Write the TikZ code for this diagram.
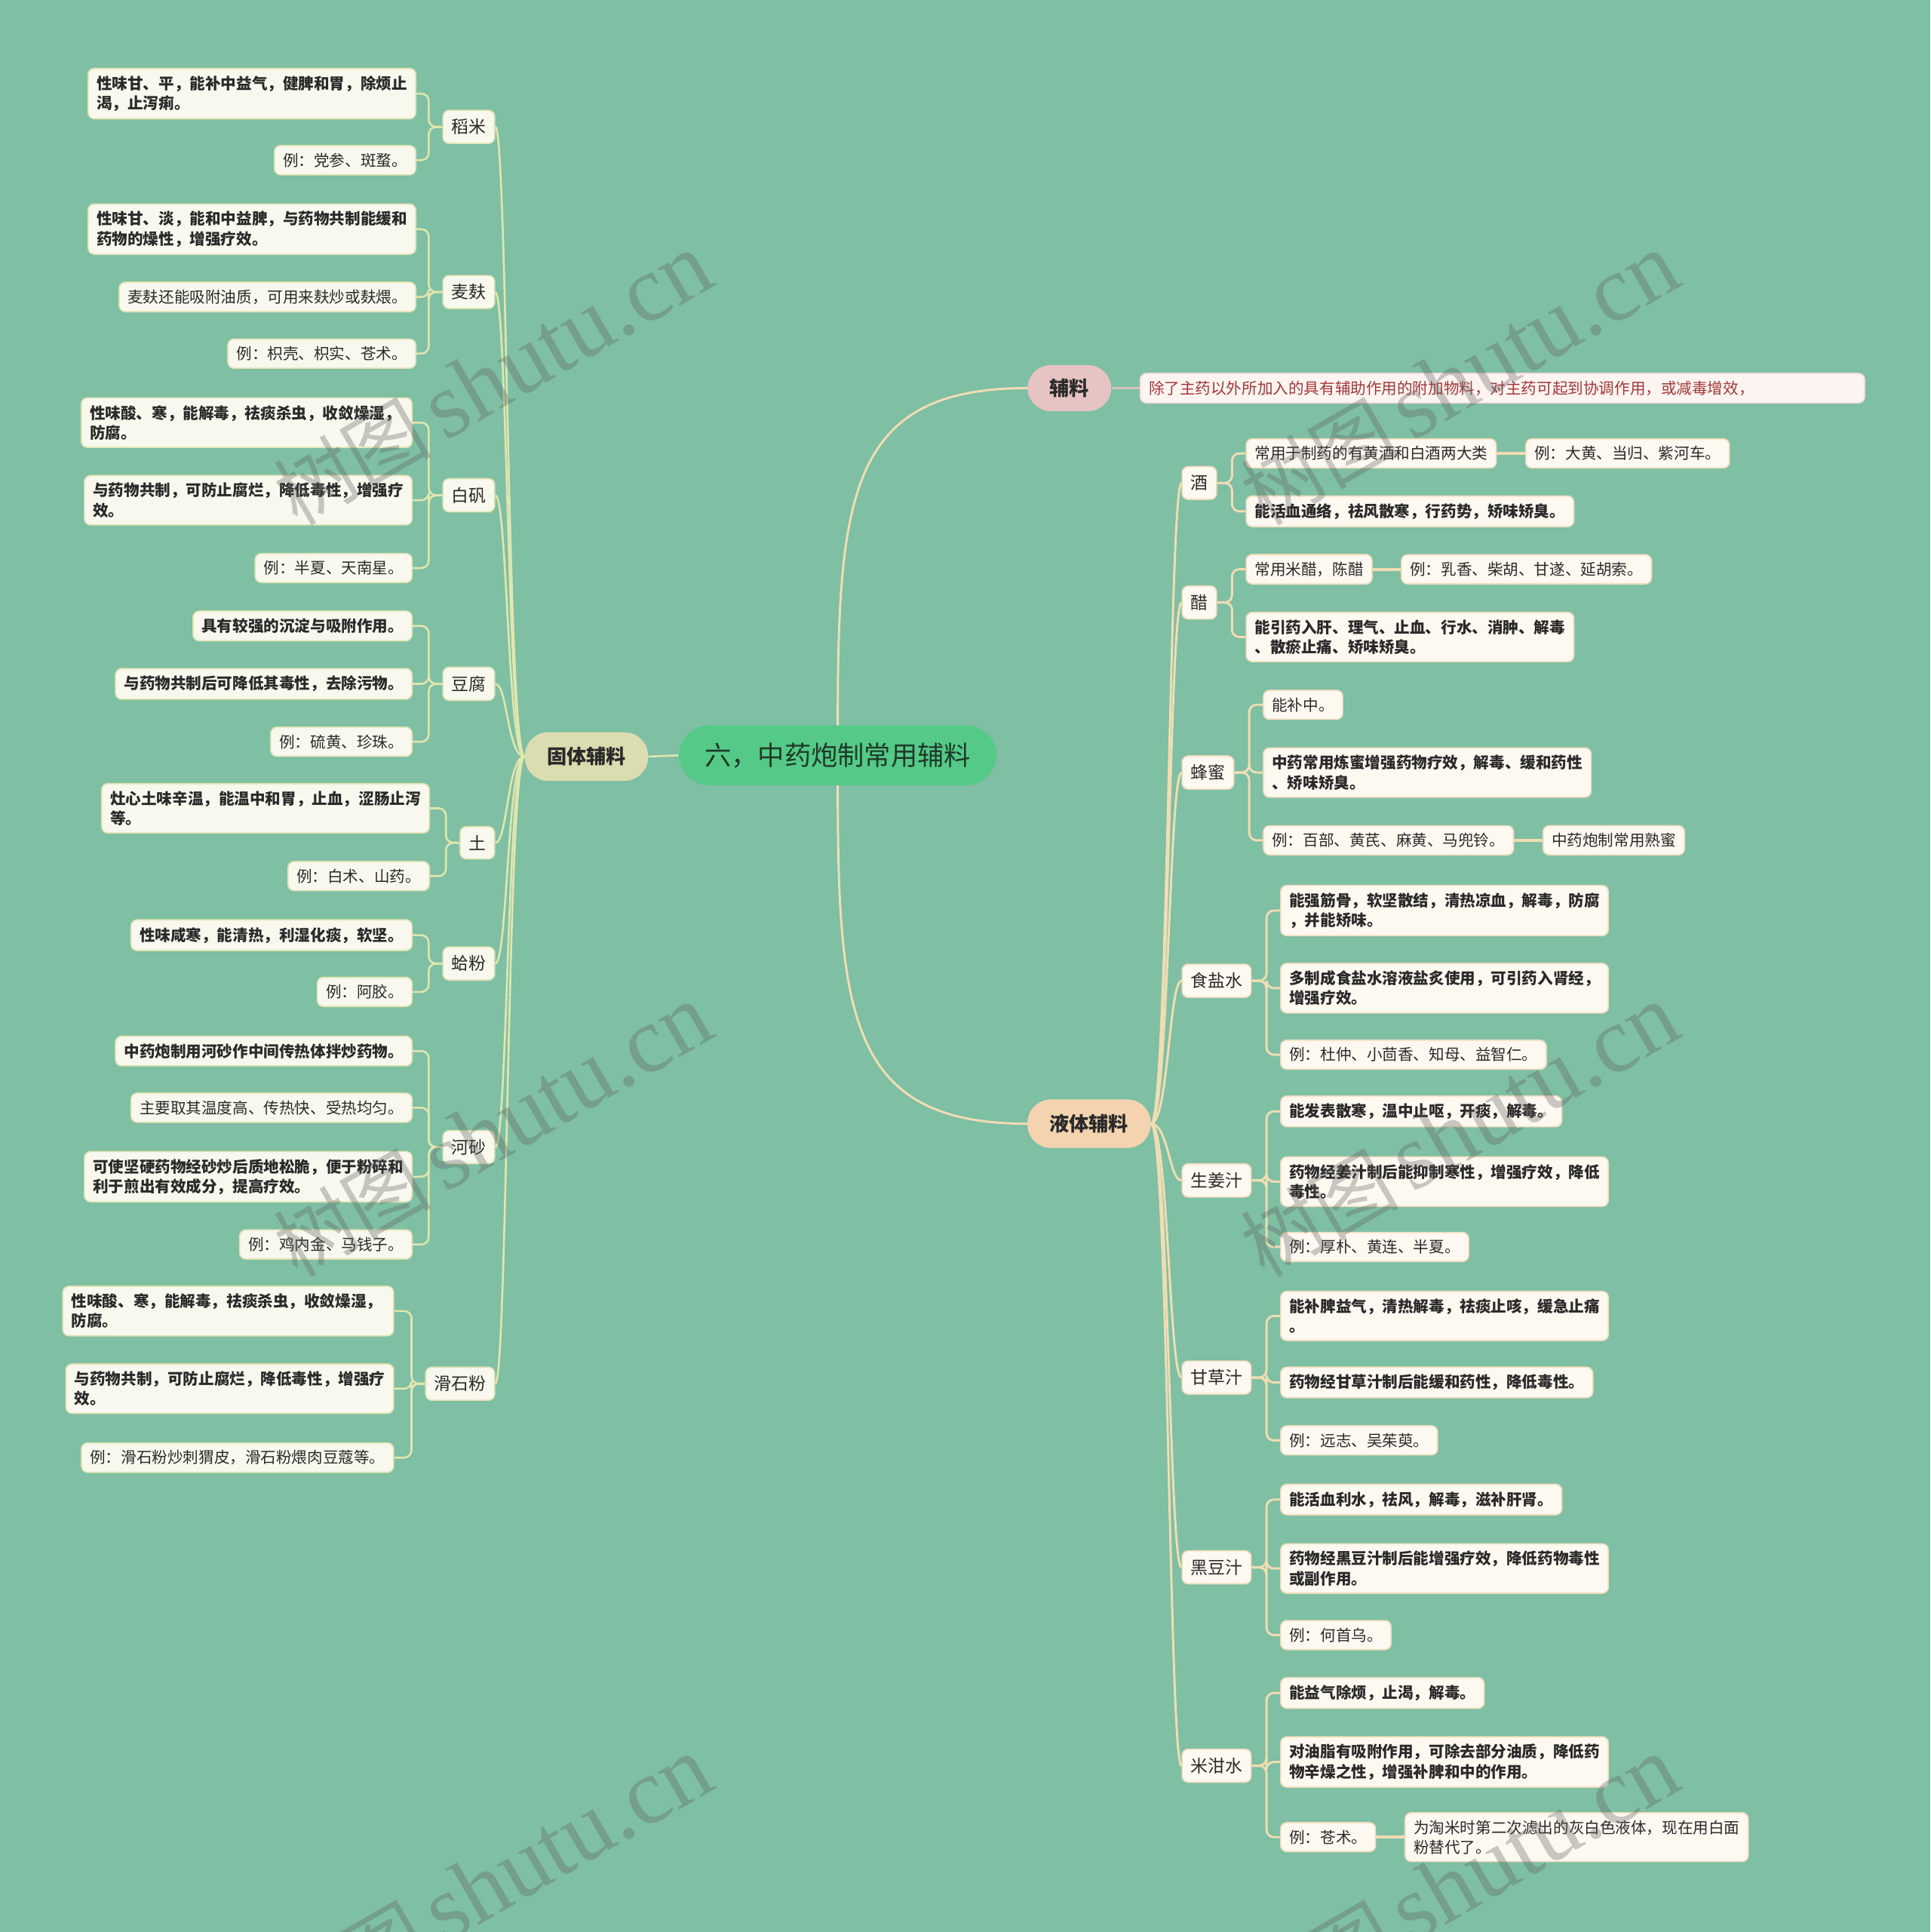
\documentclass[tikz,border=0pt]{standalone}
\usepackage{fontspec}
\setmainfont{Noto Sans CJK SC}
\newfontfamily\wmlatin{Liberation Serif}
\usetikzlibrary{calc}
\definecolor{bg}{HTML}{7FBFA4}
\definecolor{rootfill}{HTML}{55C987}
\definecolor{roottext}{HTML}{1E3A28}
\definecolor{gtfill}{HTML}{DBDDB1}
\definecolor{flfill}{HTML}{E8C3C4}
\definecolor{ytfill}{HTML}{F4D3B1}
\definecolor{leafLfill}{HTML}{F8F8EE}
\definecolor{leafRfill}{HTML}{FDF8F0}
\definecolor{lbord}{HTML}{DDE3B0}
\definecolor{rbord}{HTML}{EFDDBC}
\definecolor{lconn}{HTML}{E0E6AE}
\definecolor{rconn}{HTML}{F0DDB3}
\definecolor{pconn}{HTML}{D8C4C2}
\definecolor{descfill}{HTML}{FCF4F1}
\definecolor{descbord}{HTML}{F0D8D8}
\definecolor{desctext}{HTML}{A23838}
\definecolor{txt}{HTML}{2A2A2A}
\tikzset{
  leafbase/.style={line width=1pt, rounded corners=5pt, inner xsep=7pt, inner ysep=6pt,
    font=\fontsize{12.6pt}{16pt}\selectfont, text=txt, align=left},
  bfleaf/.style={font=\fontsize{12.6pt}{16pt}\selectfont\bfseries},
  leafL/.style={leafbase, draw=lbord, fill=leafLfill, anchor=east},
  leafR/.style={leafbase, draw=rbord, fill=leafRfill, anchor=west},
  subbase/.style={line width=1pt, rounded corners=5pt, inner xsep=7pt, inner ysep=7pt,
    font=\fontsize{14pt}{16pt}\selectfont, text=txt},
  subL/.style={subbase, draw=lbord, fill=leafLfill, anchor=east},
  subR/.style={subbase, draw=rbord, fill=leafRfill, anchor=west},
  cL/.style={draw=lconn, line width=1.6pt},
  cR/.style={draw=rconn, line width=1.8pt},
  brL/.style={cL, rounded corners=6pt},
  brR/.style={cR, rounded corners=6pt},
  mainnode/.style={font=\fontsize{16pt}{18pt}\selectfont\bfseries, text=txt, inner xsep=18pt, inner ysep=12pt, rounded corners=19pt},
  wm/.style={text=gray!75!black, opacity=0.33, rotate=30, inner sep=0pt}
}
\begin{document}
\begin{tikzpicture}[x=1pt,y=-1pt]
\path[use as bounding box, fill=bg] (0,0) rectangle (1567,1568);

% central nodes
\node[fill=rootfill, text=roottext, rounded corners=25pt, inner xsep=21pt, inner ysep=14pt,
  font=\fontsize{21.6pt}{24pt}\selectfont] (root) at (680,613) {六，中药炮制常用辅料};
\node[mainnode, fill=gtfill] (GT) at (476,614) {固体辅料};
\node[mainnode, fill=flfill, inner ysep=11pt] (FL) at (868,315) {辅料};
\node[mainnode, fill=ytfill] (YT) at (884,912) {液体辅料};
\node[anchor=west, fill=descfill, draw=descbord, line width=1pt, rounded corners=5pt,
  inner xsep=7pt, inner ysep=6pt, text width=574pt, align=left, text=desctext,
  font=\fontsize{12.6pt}{16pt}\selectfont] (FD) at (925,315)
  {除了主药以外所加入的具有辅助作用的附加物料，对主药可起到协调作用，或减毒增效，};

% left side
\node[leafL,bfleaf] (a1) at (338,76) {性味甘、平，能补中益气，健脾和胃，除烦止\\渴，止泻痢。};
\node[leafL] (a2) at (338,130) {例：党参、斑蝥。};
\node[subL] (A) at (402,103) {稻米};

\node[leafL,bfleaf] (b1) at (338,186) {性味甘、淡，能和中益脾，与药物共制能缓和\\药物的燥性，增强疗效。};
\node[leafL] (b2) at (338,241) {麦麸还能吸附油质，可用来麸炒或麸煨。};
\node[leafL] (b3) at (338,287) {例：枳壳、枳实、苍术。};
\node[subL] (B) at (402,237) {麦麸};

\node[leafL,bfleaf] (c1) at (335,343) {性味酸、寒，能解毒，祛痰杀虫，收敛燥湿\makebox[1.2em][l]{，}\\防腐。};
\node[leafL,bfleaf] (c2) at (335,406) {与药物共制，可防止腐烂，降低毒性，增强疗\\效。};
\node[leafL] (c3) at (335,461) {例：半夏、天南星。};
\node[subL] (C) at (402,402) {白矾};

\node[leafL,bfleaf] (d1) at (335,508) {具有较强的沉淀与吸附作用。};
\node[leafL,bfleaf] (d2) at (335,555) {与药物共制后可降低其毒性，去除污物。};
\node[leafL] (d3) at (335,602) {例：硫黄、珍珠。};
\node[subL] (D) at (402,555) {豆腐};

\node[leafL,bfleaf] (e1) at (349,656) {灶心土味辛温，能温中和胃，止血，涩肠止泻\\等。};
\node[leafL] (e2) at (349,711) {例：白术、山药。};
\node[subL] (E) at (402,684) {土};

\node[leafL,bfleaf] (f1) at (335,759) {性味咸寒，能清热，利湿化痰，软坚。};
\node[leafL] (f2) at (335,805) {例：阿胶。};
\node[subL] (F) at (402,782) {蛤粉};

\node[leafL,bfleaf] (g1) at (335,853) {中药炮制用河砂作中间传热体拌炒药物。};
\node[leafL] (g2) at (335,899) {主要取其温度高、传热快、受热均匀。};
\node[leafL,bfleaf] (g3) at (335,955) {可使坚硬药物经砂炒后质地松脆，便于粉碎和\\利于煎出有效成分，提高疗效。};
\node[leafL] (g4) at (335,1010) {例：鸡内金、马钱子。};
\node[subL] (G) at (402,931) {河砂};

\node[leafL,bfleaf] (h1) at (320,1064) {性味酸、寒，能解毒，祛痰杀虫，收敛燥湿\makebox[1.2em][l]{，}\\防腐。};
\node[leafL,bfleaf] (h2) at (320,1127) {与药物共制，可防止腐烂，降低毒性，增强疗\\效。};
\node[leafL] (h3) at (320,1183) {例：滑石粉炒刺猬皮，滑石粉煨肉豆蔻等。};
\node[subL] (H) at (402,1123) {滑石粉};

% right side
\node[subR] (J) at (959,392) {酒};
\node[leafR] (j1) at (1011,368) {常用于制药的有黄酒和白酒两大类};
\node[leafR] (j1x) at (1238,368) {例：大黄、当归、紫河车。};
\node[leafR,bfleaf] (j2) at (1011,415) {能活血通络，祛风散寒，行药势，矫味矫臭。};

\node[subR] (K) at (959,489) {醋};
\node[leafR] (k1) at (1011,462) {常用米醋，陈醋};
\node[leafR] (k1x) at (1137,462) {例：乳香、柴胡、甘遂、延胡索。};
\node[leafR,bfleaf] (k2) at (1011,517) {能引药入肝、理气、止血、行水、消肿、解毒\\、散瘀止痛、矫味矫臭。};

\node[subR] (L) at (959,627) {蜂蜜};
\node[leafR] (l1) at (1025,572) {能补中。};
\node[leafR,bfleaf] (l2) at (1025,627) {中药常用炼蜜增强药物疗效，解毒、缓和药性\\、矫味矫臭。};
\node[leafR] (l3) at (1025,682) {例：百部、黄芪、麻黄、马兜铃。};
\node[leafR] (l3x) at (1252,682) {中药炮制常用熟蜜};

\node[subR] (M) at (959,796) {食盐水};
\node[leafR,bfleaf] (m1) at (1039,739) {能强筋骨，软坚散结，清热凉血，解毒，防腐\\，并能矫味。};
\node[leafR,bfleaf] (m2) at (1039,802) {多制成食盐水溶液盐炙使用，可引药入肾经，\\增强疗效。};
\node[leafR] (m3) at (1039,856) {例：杜仲、小茴香、知母、益智仁。};

\node[subR] (N) at (959,958) {生姜汁};
\node[leafR,bfleaf] (n1) at (1039,902) {能发表散寒，温中止呕，开痰，解毒。};
\node[leafR,bfleaf] (n2) at (1039,959) {药物经姜汁制后能抑制寒性，增强疗效，降低\\毒性。};
\node[leafR] (n3) at (1039,1012) {例：厚朴、黄连、半夏。};

\node[subR] (O) at (959,1118) {甘草汁};
\node[leafR,bfleaf] (o1) at (1039,1068) {能补脾益气，清热解毒，祛痰止咳，缓急止痛\\。};
\node[leafR,bfleaf] (o2) at (1039,1122) {药物经甘草汁制后能缓和药性，降低毒性。};
\node[leafR] (o3) at (1039,1169) {例：远志、吴茱萸。};

\node[subR] (P) at (959,1272) {黑豆汁};
\node[leafR,bfleaf] (p1) at (1039,1217) {能活血利水，祛风，解毒，滋补肝肾。};
\node[leafR,bfleaf] (p2) at (1039,1273) {药物经黑豆汁制后能增强疗效，降低药物毒性\\或副作用。};
\node[leafR] (p3) at (1039,1327) {例：何首乌。};

\node[subR] (Q) at (959,1433) {米泔水};
\node[leafR,bfleaf] (q1) at (1039,1374) {能益气除烦，止渴，解毒。};
\node[leafR,bfleaf] (q2) at (1039,1430) {对油脂有吸附作用，可除去部分油质，降低药\\物辛燥之性，增强补脾和中的作用。};
\node[leafR] (q3) at (1039,1491) {例：苍术。};
\node[leafR] (q3x) at (1140,1491) {为淘米时第二次滤出的灰白色液体，现在用白面\\粉替代了。};

% connectors: centre
\draw[cR] (root.north) .. controls (680,400) and (690,315) .. (FL.west);
\draw[cR] (root.south) .. controls (680,826) and (690,912) .. (YT.west);
\draw[cL] (root.west) -- (GT.east);
\draw[pconn, line width=1.8pt] (FL.east) -- (FD.west);

% connectors: level 1 -> level 2
\foreach \s in {A,B,C,D,E,F,G,H}
  \draw[cL] (GT.west) .. controls +(-14,0) and +(10,0) .. (\s.east);
\foreach \s in {J,K,L,M,N,O,P,Q}
  \draw[cR] (YT.east) .. controls +(14,0) and +(-10,0) .. (\s.west);

% connectors: brackets left
\foreach \l in {a1,a2} \draw[brL] (A.west) -- ++(-11,0) |- (\l.east);
\foreach \l in {b1,b2,b3} \draw[brL] (B.west) -- ++(-11,0) |- (\l.east);
\foreach \l in {c1,c2,c3} \draw[brL] (C.west) -- ++(-11,0) |- (\l.east);
\foreach \l in {d1,d2,d3} \draw[brL] (D.west) -- ++(-11,0) |- (\l.east);
\foreach \l in {e1,e2} \draw[brL] (E.west) -- ++(-11,0) |- (\l.east);
\foreach \l in {f1,f2} \draw[brL] (F.west) -- ++(-11,0) |- (\l.east);
\foreach \l in {g1,g2,g3,g4} \draw[brL] (G.west) -- ++(-11,0) |- (\l.east);
\foreach \l in {h1,h2,h3} \draw[brL] (H.west) -- ++(-11,0) |- (\l.east);

% connectors: brackets right
\foreach \l in {j1,j2} \draw[brR] (J.east) -- ++(12,0) |- (\l.west);
\foreach \l in {k1,k2} \draw[brR] (K.east) -- ++(12,0) |- (\l.west);
\foreach \l in {l1,l2,l3} \draw[brR] (L.east) -- ++(12,0) |- (\l.west);
\foreach \l in {m1,m2,m3} \draw[brR] (M.east) -- ++(12,0) |- (\l.west);
\foreach \l in {n1,n2,n3} \draw[brR] (N.east) -- ++(12,0) |- (\l.west);
\foreach \l in {o1,o2,o3} \draw[brR] (O.east) -- ++(12,0) |- (\l.west);
\foreach \l in {p1,p2,p3} \draw[brR] (P.east) -- ++(12,0) |- (\l.west);
\foreach \l in {q1,q2,q3} \draw[brR] (Q.east) -- ++(12,0) |- (\l.west);
\draw[cR, line width=2.4pt] (j1.east) -- (j1x.west);
\draw[cR, line width=2.4pt] (k1.east) -- (k1x.west);
\draw[cR, line width=2.4pt] (l3.east) -- (l3x.west);
\draw[cR, line width=2.4pt] (q3.east) -- (q3x.west);

% watermarks
\foreach \wx/\wy/\wn in {400/308/w1, 1185/308/w2, 400/918/w3, 1185/918/w4, 400/1528/w5, 1185/1528/w6}
  \node[wm] (\wn) at (\wx,\wy) {\fontsize{64pt}{70pt}\selectfont 树图\,{\wmlatin\fontsize{76pt}{80pt}\selectfont shutu.cn}};
\end{tikzpicture}
\end{document}
